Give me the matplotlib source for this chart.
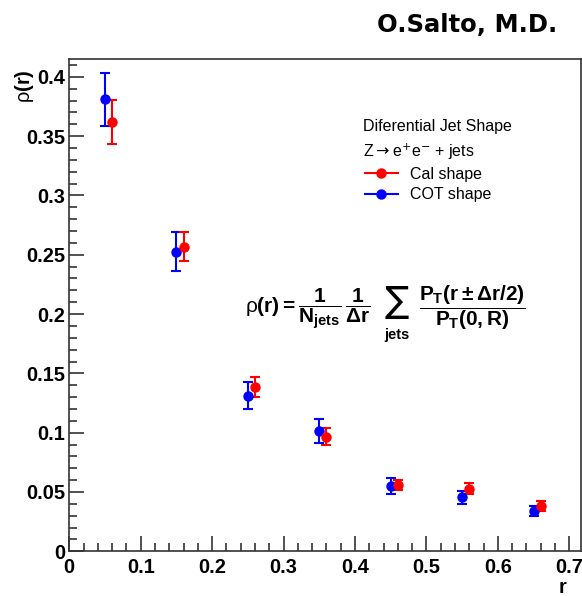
import matplotlib
matplotlib.use("Agg")
import matplotlib.pyplot as plt
from matplotlib.lines import Line2D
from matplotlib.ticker import MultipleLocator

plt.rcParams["font.family"] = ["Liberation Sans", "DejaVu Sans"]
plt.rcParams["mathtext.fontset"] = "custom"
plt.rcParams["mathtext.rm"] = "Liberation Sans:bold"
plt.rcParams["mathtext.it"] = "Liberation Sans:bold"
plt.rcParams["mathtext.bf"] = "Liberation Sans:bold"
plt.rcParams["mathtext.sf"] = "Liberation Sans"

# data
r_cot = [0.05, 0.15, 0.25, 0.35, 0.45, 0.55, 0.65]
rho_cot = [0.381, 0.2526, 0.131, 0.1014, 0.0551, 0.0455, 0.034]
err_cot = [0.0224, 0.0162, 0.0114, 0.0100, 0.0068, 0.0055, 0.0045]
r_cal = [0.06, 0.16, 0.26, 0.36, 0.46, 0.56, 0.66]
rho_cal = [0.362, 0.2568, 0.1385, 0.0966, 0.0557, 0.0528, 0.0379]
err_cal = [0.0187, 0.0124, 0.0084, 0.0070, 0.0042, 0.0047, 0.0041]

W, H = 582, 596
FRAME = "0.2"
fig = plt.figure(figsize=(W / 100, H / 100), dpi=100)
ax = fig.add_axes([69.3 / W, 1 - 551.3 / H, (581 - 69.3) / W, (551.3 - 59.3) / H])

kw = dict(fmt="o", ms=6.5, elinewidth=1.5, capsize=3.3, capthick=1.5)
ax.errorbar(r_cot, rho_cot, yerr=err_cot, color="#0000ff", **kw)
ax.errorbar(r_cal, rho_cal, yerr=err_cal, color="#ff0000", **kw)

ax.set_xlim(0, 0.7164)
ax.set_ylim(0, 0.4148)
ax.xaxis.set_major_locator(MultipleLocator(0.1))
ax.xaxis.set_minor_locator(MultipleLocator(0.02))
ax.yaxis.set_major_locator(MultipleLocator(0.05))
ax.yaxis.set_minor_locator(MultipleLocator(0.01))
fmt = plt.FuncFormatter(lambda v, p: f"{v:.2f}".rstrip("0").rstrip(".") if v else "0")
ax.xaxis.set_major_formatter(fmt)
ax.yaxis.set_major_formatter(fmt)
ax.tick_params(which="both", direction="in", color=FRAME, width=1.2,
               top=False, right=False, labelsize=14.4)
ax.tick_params(which="major", length=11, pad=3)
ax.tick_params(which="minor", length=5.7)
ax.tick_params(axis="x", which="major", pad=5)
for lab in ax.get_xticklabels() + ax.get_yticklabels():
    lab.set_fontweight("bold")
for sp in ax.spines.values():
    sp.set_color(FRAME)
    sp.set_linewidth(1.2)

# axis titles
fig.text(24 / W, 1 - 86 / H, r"$\mathsf{\rho}$(r)", rotation=90, fontsize=14.4,
         fontweight="bold", ha="center", va="center")
fig.text(566 / W, 1 - 593 / H, "r", fontsize=14.4, fontweight="bold",
         ha="right", va="baseline")

# author
fig.text(557.3 / W, 1 - 31.7 / H, "O.Salto, M.D.", fontsize=17.5,
         fontweight="bold", family="DejaVu Sans", ha="right", va="baseline")

# legend block
fig.text(362.7 / W, 1 - 126 / H, "Diferential Jet Shape", fontsize=11.5,
         ha="left", va="center")
fig.text(362.7 / W, 1 - 151.7 / H, r"Z$\rightarrow$e$^{+}$e$^{-}$ + jets",
         fontsize=11.5, ha="left", va="center", math_fontfamily="dejavusans")
handles = [Line2D([], [], color="#ff0000", marker="o", ms=6.5, lw=1.5),
           Line2D([], [], color="#0000ff", marker="o", ms=6.5, lw=1.5)]
fig.legend(handles, ["Cal shape", "COT shape"], loc="upper left",
           bbox_to_anchor=(365 / W, 1 - 166.8 / H), frameon=False,
           fontsize=11.5, borderpad=0, borderaxespad=0, handlelength=2.06,
           handletextpad=0.75, labelspacing=0.35)

# formula, in three pieces so the sum sign can be large
fig.text(245 / W, 1 - 309 / H,
         r"$\mathsf{\rho}(r) = \dfrac{1}{N_{jets}}\,\dfrac{1}{\Delta r}$",
         fontsize=15, ha="left", va="center")
fig.text(397 / W, 1 - 302 / H, "\u2211", fontsize=26, family="DejaVu Sans",
         ha="center", va="center")
fig.text(397 / W, 1 - 335 / H, "jets", fontsize=10.5, fontweight="bold",
         ha="center", va="center")
fig.text(419 / W, 1 - 308 / H,
         r"$\dfrac{P_{T}(r \pm \Delta r/2)}{P_{T}(0,R)}$",
         fontsize=15, ha="left", va="center")

fig.savefig("out.png", dpi=100)
